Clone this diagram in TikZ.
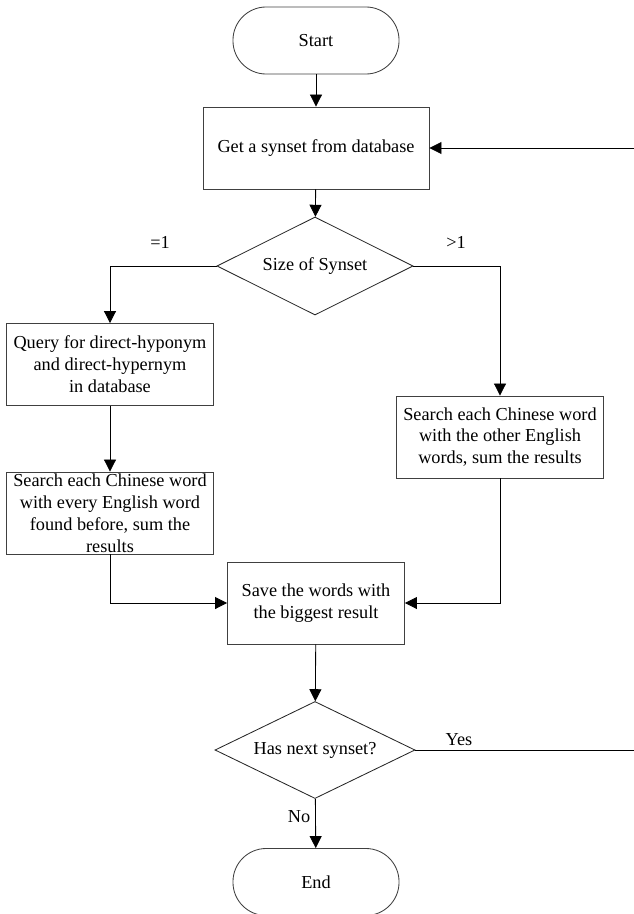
\documentclass[tikz,border=0pt]{standalone}
\usepackage{fontspec}
\setmainfont{Liberation Serif}
\usetikzlibrary{shapes.geometric,arrows.meta}

\tikzset{
  term/.style={draw=black!75, rounded corners=8.3mm, minimum width=4.15cm, minimum height=1.675cm},
  proc/.style={draw=black!75, align=center, minimum width=5.175cm, minimum height=2.05cm},
  decide/.style={draw=black!85, diamond, aspect=2, inner sep=1pt, minimum width=4.9cm, minimum height=2.45cm},
  flow/.style={-{Triangle[length=3mm,width=3mm]}},
}

\begin{document}
\begin{tikzpicture}[x=0.025cm, y=-0.025cm, line width=0.6pt, font=\fontsize{13}{15.6}\selectfont]
    \useasboundingbox (0,0) rectangle (633,914);
    % blocks
    \node[term] (start) at (316,40.5) {Start};
    \node[proc, minimum width=5.65cm] (get) at (316,148) {Get a synset from database};
    \node[decide] (size) at (315,266) {Size of Synset};
    \node[proc] (query) at (110,364.5) {Query for direct-hyponym\\and direct-hypernym\\in database};
    \node[proc, inner ysep=0pt] (srchall) at (110,513) {Search each Chinese word\\with every English word\\found before, sum the\\results};
    \node[proc] (srchother) at (500,437) {Search each Chinese word\\with the other English\\words, sum the results};
    \node[proc, minimum width=4.425cm] (save) at (316,603) {Save the words with\\the biggest result};
    \node[decide, minimum width=5cm, minimum height=2.425cm] (next) at (315,750) {Has next synset?};
    \node[term] (end) at (316,882) {End};
    \coordinate (loop) at (645,450);
    % branch labels
    \node (eqone) at (160,242) {=1};
    \node (gtone) at (456,242) {>1};
    \node (yes) at (459,740) {Yes};
    \node (no) at (299,817) {No};
    % arrows
    \draw[flow] (start) -- (get);
    \draw[flow] (get) -- (size);
    \draw[flow] (size.west) -| (query.north);
    \draw[flow] (size.east) -| (srchother.north);
    \draw[flow] (query) -- (srchall);
    \draw[flow] (srchall.south) |- (save.west);
    \draw[flow] (srchother.south) |- (save.east);
    \draw[flow] (save) -- (next);
    \draw[flow] (next) -- (end);
    \draw[flow] (next.east) -- (next.east -| loop) |- (get.east);
\end{tikzpicture}
\end{document}
